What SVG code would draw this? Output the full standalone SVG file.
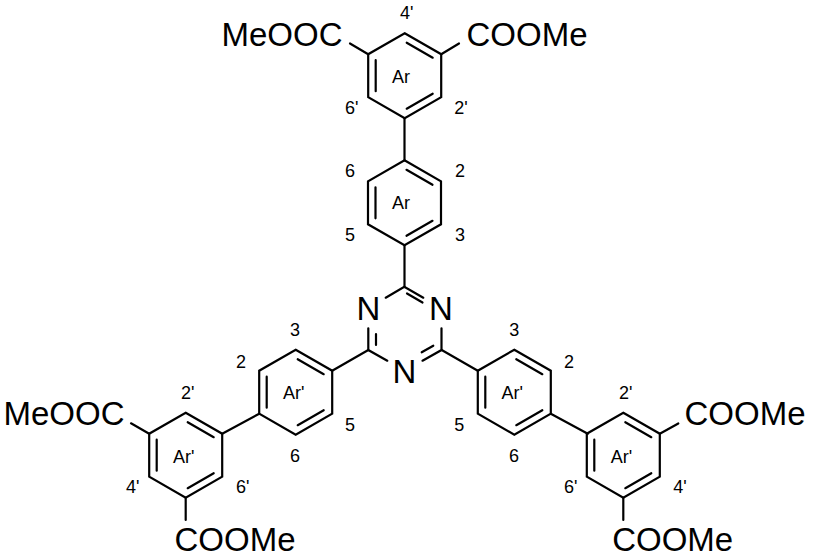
<svg xmlns="http://www.w3.org/2000/svg" width="813" height="560" viewBox="0 0 813 560">
<style>
.b{fill:none;stroke:#000;stroke-width:2.2;stroke-linecap:round;stroke-linejoin:miter}
text{font-family:"Liberation Sans",Arial,sans-serif;fill:#000}
.a{font-size:33px}
.l{font-size:18px}
.m{text-anchor:middle}
</style>
<defs>
<g id="ring" class="b">
<polygon points="0,-42.5 36.5,-21.5 36.5,21.5 0,42.5 -36.5,21.5 -36.5,-21.5"/>
<path d="M2,-33 L28,-18 M2,33 L28,18 M-29,-15.5 V15.5"/>
</g>
</defs>
<rect width="813" height="560" fill="#fff"/>
<g id="connectors" class="b">
<path d="M404.5,118.2 V160.3"/>
<path d="M404.5,245.3 V286.7"/>
<path d="M332.2,370.7 L368.3,350"/>
<path d="M222.2,433.7 L259.2,413.7"/>
<path d="M477.8,370.7 L441.7,350"/>
<path d="M587.8,433.7 L550.8,413.7"/>
<path d="M368.2,54.2 L350,43.5"/>
<path d="M441.2,54.2 L459,43.5"/>
<path d="M149.2,433.7 L131,423.3"/>
<path d="M185.7,497.7 V520"/>
<path d="M659.8,433.7 L678.3,423.5"/>
<path d="M623.3,497.7 V520"/>
</g>
<g id="triazine">
<path class="b" d="M385.7,297.7 L404.3,286.7 L423.3,297.7 M407,293.5 L422.5,302.5 M368.3,328.3 V350 L387.3,360.7 M376,334 V345 M441.5,328.3 V350 L422.5,360.7 M433.3,345.7 L421.7,352.3"/>
<text class="a m" x="368.3" y="319.6">N</text>
<text class="a m" x="441" y="319.6">N</text>
<text class="a m" x="404.3" y="383">N</text>
</g>
<g id="ring-top-outer">
<use href="#ring" x="404.7" y="75.7"/>
<text class="l" x="392" y="82.7">Ar</text>
<text class="l" x="400" y="19.3">4'</text>
<text class="l" x="345" y="114.3">6'</text>
<text class="l" x="454.3" y="114.3">2'</text>
</g>
<g id="ester-top-left"><text class="a" x="221.5" y="45.6">MeOOC</text></g>
<g id="ester-top-right"><text class="a" x="466.5" y="45.6">COOMe</text></g>
<g id="ring-top-inner">
<use href="#ring" x="404.5" y="202.8"/>
<text class="l" x="392" y="209.3">Ar</text>
<text class="l" x="345" y="177">6</text>
<text class="l" x="455" y="177">2</text>
<text class="l" x="345" y="240.7">5</text>
<text class="l" x="455" y="240.7">3</text>
</g>
<g id="ring-left-inner">
<use href="#ring" x="295.7" y="392.2"/>
<text class="l" x="283" y="399.3">Ar'</text>
<text class="l" x="290" y="335.7">3</text>
<text class="l" x="236" y="368.3">2</text>
<text class="l" x="345" y="430.7">5</text>
<text class="l" x="290" y="462.3">6</text>
</g>
<g id="ring-left-outer">
<use href="#ring" x="185.7" y="455.2"/>
<text class="l" x="173" y="462.7">Ar'</text>
<text class="l" x="181" y="399.3">2'</text>
<text class="l" x="126" y="493.3">4'</text>
<text class="l" x="236" y="493.3">6'</text>
</g>
<g id="ester-left-upper"><text class="a" x="3.5" y="425.3">MeOOC</text></g>
<g id="ester-left-lower"><text class="a" x="174.5" y="551">COOMe</text></g>
<g id="ring-right-inner">
<use href="#ring" x="514.3" y="392.2"/>
<text class="l" x="501.5" y="399.3">Ar'</text>
<text class="l" x="509.3" y="335.7">3</text>
<text class="l" x="564" y="368.3">2</text>
<text class="l" x="454.3" y="430.7">5</text>
<text class="l" x="509" y="462.3">6</text>
</g>
<g id="ring-right-outer">
<use href="#ring" x="623.3" y="455.2"/>
<text class="l" x="610.7" y="462.7">Ar'</text>
<text class="l" x="619" y="399.3">2'</text>
<text class="l" x="564" y="493.3">6'</text>
<text class="l" x="673.3" y="493.3">4'</text>
</g>
<g id="ester-right-upper"><text class="a" x="684.5" y="425.3">COOMe</text></g>
<g id="ester-right-lower"><text class="a" x="612.2" y="551">COOMe</text></g>
</svg>
